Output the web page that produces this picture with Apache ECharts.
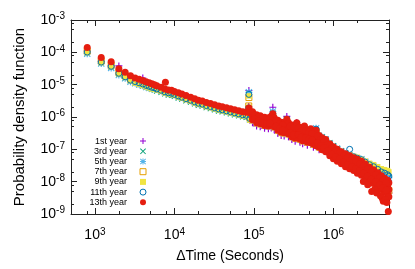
<!DOCTYPE html>
<html><head><meta charset="utf-8">
<script src="https://cdn.jsdelivr.net/npm/echarts@6/dist/echarts.min.js"></script>
<style>html,body{margin:0;padding:0;background:#fff}#c{width:415px;height:269px}</style>
</head><body><div id="c"></div>
<script>
// ---------------- data ----------------
const timeGrid = [800,1200,1600,2000,2400,2800,3200,3600,4000,4400,4800,5200,5600,6000,6800,7600,8400,9200,10000,11200,12400,14000,16000,18000,20000,22400,25200,28400,32000,36000,40000,45200,50800,57200,64400,72400,80000,86000,86400,88800,
  96000,108000,120000,136000,152000,165200,172800,180000,200000,220000,240000,259200,272000,300000,330000,345600,380000,410000,432000,470000,518400,560000,604800,660000,720000,800000,900000,1000000,1120000,1260000,1420000,1600000,1800000,2000000,2250000,2520000,2840000,3200000,3600000,4000000,4400000,4800000,4980000];
const tailStart = 40; // index of 96000 s in timeGrid

const year1Pdf = [1.1e-4,5.2e-5,3.8e-5,3.8e-5,1.8e-5,1.4e-5,1.2e-5,1.1e-5,1.6e-5,1.02e-5,9.5e-6,8.9e-6,8.6e-6,8.0e-6,7.2e-6,6.4e-6,6.0e-6,5.8e-6,5.4e-6,4.9e-6,4.4e-6,4.0e-6,3.6e-6,3.2e-6,2.9e-6,2.7e-6,2.4e-6,2.26e-6,2.08e-6,1.9e-6,1.8e-6,1.67e-6,1.55e-6,1.45e-6,1.35e-6,1.26e-6,1.2e-6,2.1e-6,6.6e-6,8.8e-7,
  6.6e-7,5.3e-7,5.0e-7,4.5e-7,4.3e-7,4.6e-7,2.0e-6,4.0e-7,3.1e-7,2.7e-7,2.6e-7,1.04e-6,2.45e-7,2.0e-7,1.78e-7,6.8e-7,1.66e-7,1.49e-7,5.0e-7,1.34e-7,3.9e-7,1.16e-7,3.6e-7,9.7e-8,1.05e-7,9.1e-8,6.8e-8,5.5e-8,4.6e-8,3.9e-8,3.35e-8,3.1e-8,2.7e-8,2.35e-8,2.1e-8,1.7e-8,1.38e-8,1.15e-8,9.3e-9,7.5e-9,6.3e-9,5.4e-9,4.4e-9];
const year3Pdf = [9.5e-5,4.7e-5,3.45e-5,2.1e-5,1.62e-5,1.29e-5,1.08e-5,9.9e-6,9.1e-6,8.3e-6,7.7e-6,7.2e-6,6.9e-6,6.4e-6,5.8e-6,5.2e-6,4.8e-6,4.7e-6,4.35e-6,3.9e-6,3.6e-6,3.2e-6,2.9e-6,2.56e-6,2.3e-6,2.17e-6,1.96e-6,1.82e-6,1.68e-6,1.54e-6,1.45e-6,1.35e-6,1.25e-6,1.17e-6,1.09e-6,1.02e-6,9.8e-7,1.8e-6,5.4e-6,8.2e-7,
  8.2e-7,6.6e-7,6.2e-7,5.5e-7,5.3e-7,5.7e-7,1.32e-6,5.0e-7,3.9e-7,3.4e-7,3.25e-7,8.6e-7,3.0e-7,2.45e-7,2.2e-7,6.0e-7,2.05e-7,1.84e-7,4.7e-7,1.66e-7,4.0e-7,1.44e-7,4.0e-7,2.7e-7,2.45e-7,2.1e-7,1.6e-7,1.29e-7,1.08e-7,9.1e-8,7.85e-8,6.8e-8,5.9e-8,5.3e-8,4.6e-8,3.9e-8,3.1e-8,2.7e-8,2.2e-8,1.77e-8,1.53e-8,1.43e-8,1.24e-8];
const year5Pdf = [9.1e-5,4.5e-5,3.3e-5,2.0e-5,1.57e-5,1.24e-5,1.12e-5,1.02e-5,9.4e-6,8.5e-6,8.0e-6,7.6e-6,7.5e-6,7.2e-6,6.5e-6,5.8e-6,5.4e-6,5.2e-6,4.85e-6,4.4e-6,4.0e-6,3.6e-6,3.2e-6,2.85e-6,2.57e-6,2.42e-6,2.18e-6,2.03e-6,1.87e-6,1.72e-6,1.61e-6,1.5e-6,1.4e-6,1.3e-6,1.21e-6,1.13e-6,1.09e-6,1.85e-6,5.8e-6,8.5e-7,
  8.8e-7,7.1e-7,6.6e-7,6.0e-7,5.7e-7,6.4e-7,1.48e-6,5.7e-7,4.5e-7,3.9e-7,3.75e-7,7.8e-7,3.75e-7,3.0e-7,2.7e-7,5.7e-7,2.5e-7,2.3e-7,4.5e-7,2.05e-7,3.75e-7,1.78e-7,4.5e-7,2.6e-7,2.3e-7,2.0e-7,1.49e-7,1.2e-7,1.0e-7,8.4e-8,7.3e-8,6.3e-8,5.5e-8,5.2e-8,4.9e-8,4.1e-8,3.35e-8,2.9e-8,2.35e-8,1.9e-8,1.64e-8,1.53e-8,1.33e-8];
const year7Pdf = [1.09e-4,5.4e-5,4.0e-5,2.4e-5,1.87e-5,1.48e-5,1.33e-5,1.21e-5,1.11e-5,1.01e-5,9.5e-6,8.8e-6,8.3e-6,7.7e-6,6.9e-6,6.2e-6,5.8e-6,5.6e-6,5.2e-6,4.7e-6,4.3e-6,3.85e-6,3.4e-6,3.05e-6,2.76e-6,2.6e-6,2.34e-6,2.18e-6,2.0e-6,1.84e-6,1.73e-6,1.6e-6,1.5e-6,1.4e-6,1.3e-6,1.21e-6,1.17e-6,2.2e-6,4.0e-6,9.4e-7,
  1.0e-6,8.2e-7,7.6e-7,6.9e-7,6.6e-7,7.4e-7,1.04e-6,6.6e-7,5.2e-7,4.5e-7,4.3e-7,7.1e-7,4.3e-7,3.5e-7,3.1e-7,5.3e-7,2.9e-7,2.6e-7,4.2e-7,2.36e-7,3.5e-7,2.05e-7,3.5e-7,1.66e-7,1.39e-7,1.2e-7,9.1e-8,7.3e-8,6.1e-8,5.1e-8,4.3e-8,3.7e-8,3.2e-8,2.8e-8,2.4e-8,1.96e-8,1.58e-8,1.33e-8,1.07e-8,8.7e-9,7.3e-9,6.3e-9,5.3e-9];
const year9Pdf = [9.8e-5,4.8e-5,3.6e-5,2.17e-5,1.68e-5,1.33e-5,1.12e-5,1.02e-5,9.4e-6,8.6e-6,8.0e-6,7.4e-6,7.3e-6,6.9e-6,6.25e-6,5.6e-6,5.2e-6,5.0e-6,4.7e-6,4.2e-6,3.85e-6,3.45e-6,3.1e-6,2.75e-6,2.5e-6,2.33e-6,2.1e-6,1.96e-6,1.8e-6,1.66e-6,1.56e-6,1.45e-6,1.35e-6,1.26e-6,1.17e-6,1.09e-6,1.05e-6,2.0e-6,4.5e-6,8.0e-7,
  7.6e-7,6.2e-7,5.7e-7,5.2e-7,5.0e-7,5.3e-7,1.04e-6,4.6e-7,3.6e-7,3.1e-7,3.0e-7,6.6e-7,2.8e-7,2.3e-7,2.05e-7,5.0e-7,1.9e-7,1.72e-7,4.0e-7,1.54e-7,3.25e-7,1.34e-7,3.1e-7,1.08e-7,1.49e-7,1.29e-7,1.05e-7,9.1e-8,8.1e-8,7.3e-8,7.1e-8,6.6e-8,6.1e-8,5.7e-8,4.9e-8,4.3e-8,3.7e-8,3.35e-8,2.9e-8,2.5e-8,2.35e-8,2.2e-8,2.0e-8];
const year11Pdf = [1.02e-4,5.0e-5,3.7e-5,2.25e-5,1.75e-5,1.38e-5,1.25e-5,1.14e-5,1.05e-5,9.5e-6,8.9e-6,8.3e-6,8.0e-6,7.4e-6,6.7e-6,6.0e-6,5.6e-6,5.4e-6,5.0e-6,4.5e-6,4.1e-6,3.7e-6,3.3e-6,2.95e-6,2.67e-6,2.5e-6,2.26e-6,2.1e-6,1.94e-6,1.78e-6,1.67e-6,1.55e-6,1.45e-6,1.35e-6,1.25e-6,1.17e-6,1.13e-6,1.9e-6,5.0e-6,9.0e-7,
  9.4e-7,7.6e-7,7.1e-7,6.4e-7,6.2e-7,6.9e-7,1.25e-6,6.2e-7,4.8e-7,4.2e-7,4.0e-7,7.6e-7,4.0e-7,3.25e-7,2.9e-7,5.5e-7,2.7e-7,2.45e-7,4.3e-7,2.2e-7,3.6e-7,1.9e-7,4.2e-7,1.54e-7,1.6e-7,1.39e-7,1.05e-7,8.4e-8,7.1e-8,5.9e-8,6.6e-8,1.0e-7,5.9e-8,5.3e-8,4.8e-8,4.0e-8,3.35e-8,2.9e-8,2.4e-8,2.0e-8,1.83e-8,1.64e-8,1.48e-8];
const year13Pdf = [1.4e-4,6.9e-5,5.1e-5,3.1e-5,2.4e-5,1.9e-5,1.6e-5,1.46e-5,1.34e-5,1.22e-5,1.14e-5,1.06e-5,9.9e-6,9.2e-6,8.3e-6,7.4e-6,6.9e-6,6.7e-6,6.2e-6,5.6e-6,5.1e-6,4.6e-6,4.1e-6,3.65e-6,3.3e-6,3.1e-6,2.8e-6,2.6e-6,2.4e-6,2.2e-6,2.07e-6,1.92e-6,1.79e-6,1.67e-6,1.55e-6,1.45e-6,1.4e-6,1.5e-6,1.9e-6,1.35e-6,
  1.09e-6,8.8e-7,8.2e-7,7.4e-7,7.1e-7,7.9e-7,9.4e-7,7.1e-7,5.5e-7,4.8e-7,4.6e-7,6.0e-7,4.6e-7,3.75e-7,3.4e-7,4.5e-7,3.1e-7,2.8e-7,3.6e-7,2.5e-7,2.9e-7,2.2e-7,2.5e-7,1.78e-7,1.49e-7,1.29e-7,9.7e-8,7.85e-8,6.6e-8,5.5e-8,4.6e-8,4.0e-8,3.5e-8,3.0e-8,2.6e-8,2.1e-8,1.7e-8,1.43e-8,1.15e-8,9.3e-9,7.8e-9,6.8e-9,5.7e-9];
// 13th year: upper and lower edge of its wide noisy cloud past one day
const year13UpperTail = [1.45e-6,1.17e-6,1.09e-6,9.8e-7,9.4e-7,1.05e-6,1.26e-6,9.4e-7,7.9e-7,6.9e-7,6.6e-7,8.5e-7,6.6e-7,5.7e-7,5.2e-7,6.6e-7,4.8e-7,4.3e-7,5.3e-7,3.9e-7,4.3e-7,3.4e-7,3.9e-7,2.7e-7,2.3e-7,2.0e-7,1.49e-7,1.2e-7,1.0e-7,8.4e-8,7.3e-8,6.3e-8,5.5e-8,4.9e-8,4.3e-8,3.5e-8,2.8e-8,2.35e-8,1.9e-8,1.53e-8,1.28e-8,1.11e-8,9.3e-9];
const year13LowerTail = [8.2e-7,6.6e-7,6.2e-7,5.5e-7,5.3e-7,5.7e-7,6.2e-7,5.0e-7,3.9e-7,3.4e-7,3.25e-7,3.5e-7,3.0e-7,2.45e-7,2.2e-7,2.45e-7,2.05e-7,1.84e-7,2.0e-7,1.66e-7,1.6e-7,1.44e-7,1.29e-7,1.16e-7,9.7e-8,8.4e-8,6.3e-8,5.1e-8,4.3e-8,3.6e-8,2.9e-8,2.5e-8,2.2e-8,1.83e-8,1.58e-8,1.28e-8,1.04e-8,8.7e-9,7.0e-9,5.7e-9,4.7e-9,4.1e-9,3.4e-9];
// 13th year: further points inside the cloud, between the grid times
const year13CloudTime = [102000,114000,128000,144000,158000,190000,210000,230000,286000,315000,362000,395000,450000,495000,540000,630000,690000,760000,850000,950000,1060000,1190000,1340000,1510000,1700000,1900000,2130000,2380000,2680000,3000000,3400000,3800000,4200000,4600000];
const year13CloudHigh = [1.13e-6,9.8e-7,9.0e-7,8.4e-7,8.8e-7,7.6e-7,6.2e-7,5.7e-7,5.2e-7,4.5e-7,4.6e-7,3.75e-7,3.75e-7,3.4e-7,3.1e-7,2.6e-7,2.0e-7,1.72e-7,1.39e-7,1.08e-7,8.9e-8,7.5e-8,6.3e-8,5.4e-8,4.7e-8,4.1e-8,3.6e-8,3.0e-8,2.4e-8,2.0e-8,1.64e-8,1.33e-8,1.11e-8,9.3e-9];
const year13CloudLow = [8.5e-7,7.4e-7,6.8e-7,6.3e-7,6.4e-7,5.2e-7,4.3e-7,3.9e-7,3.25e-7,2.8e-7,2.9e-7,2.36e-7,2.3e-7,2.05e-7,1.91e-7,1.6e-7,1.32e-7,1.12e-7,9.1e-8,7.1e-8,5.8e-8,4.9e-8,4.0e-8,3.4e-8,2.95e-8,2.5e-8,2.2e-8,1.83e-8,1.48e-8,1.19e-8,1.0e-8,8.1e-9,6.5e-9,5.5e-9];
const year13ScatterTime = [7700,2380000,2700000,3030000,3300000,3500000,3900000,4100000,4240000,4500000,4700000,4900000];
const year13ScatterPdf = [1.19e-5,1.02e-8,8.1e-9,5.0e-9,5.7e-9,4.5e-9,3.7e-9,3.1e-9,2.5e-9,2.8e-9,2.25e-9,1.2e-9];

const seriesNames = ['1st year','3rd year','5th year','7th year','9th year','11th year','13th year'];
const xRange = [500, 5e6];
const yRange = [1e-9, 1e-3];
const xMajorExponents = [3, 4, 5, 6];
const yMajorExponents = [-9, -8, -7, -6, -5, -4, -3];
const minorMantissas = [2, 5, 8];
const xTitle = 'ΔTime (Seconds)';
const yTitle = 'Probability density function';

// ---------------- chart ----------------
const FONT = '"Liberation Sans", Arial, Helvetica, sans-serif';
const AXIS_COLOR = '#222';
const lx = xRange.map(Math.log10), ly = yRange.map(Math.log10);
function minorList(lo, hi) {
  const out = [];
  for (let k = Math.floor(lo) - 1; k <= Math.ceil(hi); k++) {
    for (const m of minorMantissas) { const v = k + Math.log10(m); if (v > lo + 1e-9 && v < hi - 1e-9) out.push(v); }
  }
  return out;
}
const supRich = {
  b: { fontSize: 14, fontFamily: FONT, color: '#000' },
  e: { fontSize: 10, fontFamily: FONT, color: '#000', padding: [0, 0, 7, 0] }
};
function tickAxis(position, range, values, length, label, extra) {
  return Object.assign({
    type: 'value', position, min: range[0], max: range[1], gridIndex: 0,
    axisLine: { show: length > 4, onZero: false, lineStyle: { color: AXIS_COLOR, width: 1 } },
    splitLine: { show: false },
    axisTick: { show: true, inside: true, length, customValues: values, lineStyle: { color: AXIS_COLOR, width: 1 } },
    axisLabel: label ? Object.assign({ show: true, customValues: values, rich: supRich,
      formatter: v => '{b|10}{e|' + Math.round(v) + '}' }, label) : { show: false },
    silent: true
  }, extra || {});
}
const xMinor = minorList(lx[0], lx[1]);
const yMinor = minorList(ly[0], ly[1]);

const plusPath = 'path://M0,3.75H9V5.25H0Z M3.75,0H5.25V9H3.75Z';
const crossPath = 'path://M0,1L1,0L9,8L8,9Z M8,0L9,1L1,9L0,8Z';
const starPath = 'path://M0,1L1,0L9,8L8,9Z M8,0L9,1L1,9L0,8Z M0,3.75H9V5.25H0Z M3.75,0H5.25V9H3.75Z';

function pairs(xs, ys) { return ys.map((y, i) => [xs[i], y]); }
const tailTimes = timeGrid.slice(tailStart);
const year13Data = pairs(timeGrid, year13Pdf)
  .concat(pairs(tailTimes, year13UpperTail))
  .concat(pairs(tailTimes, year13LowerTail))
  .concat(pairs(year13CloudTime, year13CloudHigh))
  .concat(pairs(year13CloudTime, year13CloudLow))
  .concat(pairs(year13ScatterTime, year13ScatterPdf));

const hollow = 'rgba(0,0,0,0)';
const styles = [
  { symbol: plusPath, symbolSize: 7, itemStyle: { color: '#9400D3', opacity: 1 } },
  { symbol: crossPath, symbolSize: 6, itemStyle: { color: '#009E73', opacity: 1 } },
  { symbol: starPath, symbolSize: 7, itemStyle: { color: '#56B4E9', opacity: 1 } },
  { symbol: 'rect', symbolSize: 6, itemStyle: { color: hollow, borderColor: '#E69F00', borderWidth: 1, opacity: 1 } },
  { symbol: 'rect', symbolSize: 5.5, itemStyle: { color: '#F0E442', opacity: 1 } },
  { symbol: 'circle', symbolSize: 6, itemStyle: { color: hollow, borderColor: '#0072B2', borderWidth: 1, opacity: 1 } },
  { symbol: 'circle', symbolSize: 7, itemStyle: { color: '#E51E10', opacity: 1 } }
];
const dataSets = [
  pairs(timeGrid, year1Pdf), pairs(timeGrid, year3Pdf), pairs(timeGrid, year5Pdf),
  pairs(timeGrid, year7Pdf), pairs(timeGrid, year9Pdf), pairs(timeGrid, year11Pdf), year13Data
];
const series = seriesNames.map((name, i) => Object.assign({
  name, type: 'scatter', xAxisIndex: 0, yAxisIndex: 0, data: dataSets[i],
  emphasis: { disabled: true }, animation: false
}, styles[i]));

const legendData = seriesNames.map((name, i) => {
  const st = styles[i].itemStyle;
  return st.borderColor
    ? { name, itemStyle: { color: hollow, borderColor: st.borderColor, borderWidth: 1 } }
    : { name, itemStyle: { color: st.color, borderWidth: 0 } };
});

const chart = echarts.init(document.getElementById('c'), null, { renderer: 'canvas' });
chart.setOption({
  animation: false,
  backgroundColor: '#fff',
  grid: { left: 71, top: 20, width: 318, height: 194, containLabel: false },
  xAxis: [
    { type: 'log', logBase: 10, min: xRange[0], max: xRange[1], show: false, gridIndex: 0 },
    tickAxis('bottom', lx, xMajorExponents, 6, { margin: 13 },
      { name: xTitle, nameLocation: 'middle', nameGap: 35, nameTextStyle: { fontFamily: FONT, fontSize: 14, color: '#000' } }),
    tickAxis('bottom', lx, xMinor, 3, null),
    tickAxis('top', lx, xMajorExponents, 6, null),
    tickAxis('top', lx, xMinor, 3, null)
  ],
  yAxis: [
    { type: 'log', logBase: 10, min: yRange[0], max: yRange[1], show: false, gridIndex: 0 },
    tickAxis('left', ly, yMajorExponents, 6, { margin: 6 },
      { name: yTitle, nameLocation: 'middle', nameGap: 44, nameTextStyle: { fontFamily: FONT, fontSize: 15, color: '#000' } }),
    tickAxis('left', ly, yMinor, 3, null),
    tickAxis('right', ly, yMajorExponents, 6, null),
    tickAxis('right', ly, yMinor, 3, null)
  ],
  legend: {
    orient: 'vertical', left: 89, top: 136, padding: 0, itemGap: 0,
    itemWidth: 6, itemHeight: 6, align: 'right', selectedMode: false,
    data: legendData,
    formatter: name => '{n|' + name + '}{s|}',
    textStyle: { fontFamily: FONT, fontSize: 9, color: '#000', lineHeight: 10.2,
      rich: { n: { width: 38, align: 'right', fontFamily: FONT, fontSize: 9, color: '#000', lineHeight: 10.2 }, s: { width: 8 } } }
  },
  series
});
</script>
</body></html>
